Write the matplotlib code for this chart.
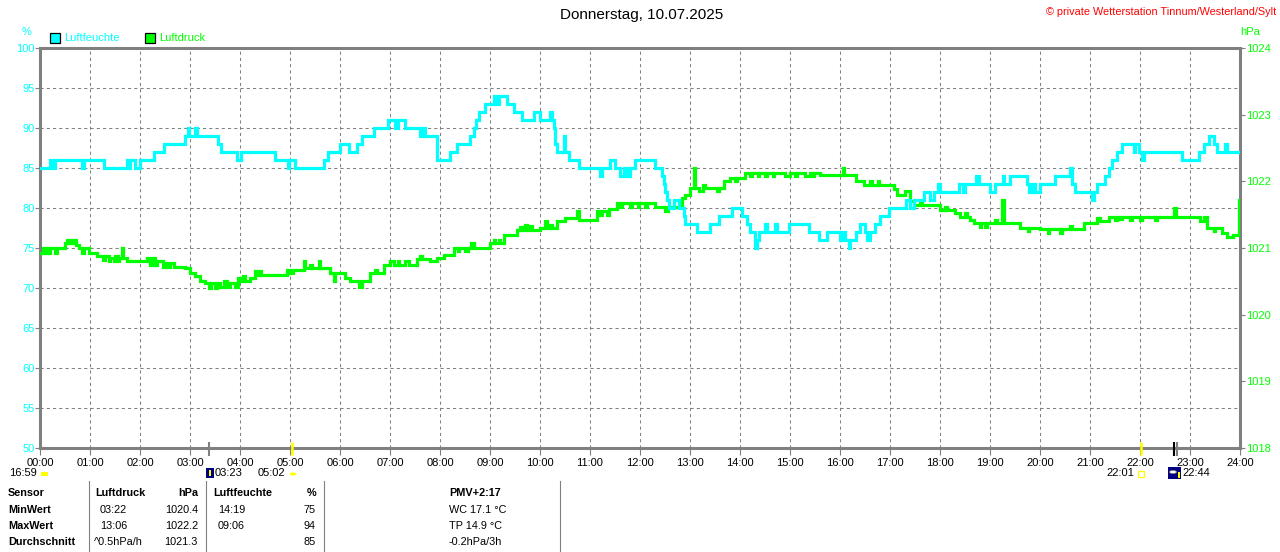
import matplotlib
matplotlib.use('Agg')
import matplotlib.pyplot as plt
from matplotlib.patches import Rectangle, Circle
import matplotlib.transforms as mtrans

plt.rcParams['font.family'] = ['Liberation Sans', 'DejaVu Sans']

# ---------------- data ----------------
hum_t = [0.0, 0.2, 0.25, 0.3, 0.83, 0.87, 1.0, 1.27, 1.73, 1.77, 1.8, 1.9, 2.0,
         2.28, 2.47, 2.9, 2.95, 2.98, 3.1, 3.13, 3.55, 3.62, 3.93, 4.02, 4.7,
         4.95, 4.98, 5.1, 5.67, 5.75, 6.0, 6.17, 6.33, 6.43, 6.67, 6.95, 7.1,
         7.15, 7.3, 7.6, 7.65, 7.7, 7.93, 8.2, 8.33, 8.6, 8.67, 8.72, 8.77, 8.9,
         9.07, 9.13, 9.17, 9.33, 9.47, 9.63, 9.87, 10.0, 10.2, 10.23, 10.27,
         10.3, 10.33, 10.47, 10.5, 10.57, 10.77, 11.2, 11.23, 11.4, 11.5, 11.6,
         11.67, 11.73, 11.8, 11.9, 12.3, 12.43, 12.47, 12.5, 12.53, 12.57,
         12.67, 12.77, 12.87, 12.9, 13.13, 13.4, 13.57, 13.83, 14.03, 14.13,
         14.2, 14.3, 14.33, 14.37, 14.5, 14.53, 14.7, 14.73, 14.97, 15.37,
         15.57, 15.73, 16.0, 16.05, 16.1, 16.17, 16.2, 16.33, 16.4, 16.5,
         16.53, 16.6, 16.7, 16.8, 16.97, 17.33, 17.4, 17.47, 17.67, 17.8,
         17.87, 17.95, 18.0, 18.37, 18.45, 18.5, 18.72, 18.77, 19.0, 19.1,
         19.25, 19.28, 19.4, 19.73, 19.77, 19.83, 19.9, 20.0, 20.13, 20.3,
         20.6, 20.63, 20.7, 21.03, 21.07, 21.13, 21.3, 21.37, 21.43, 21.53,
         21.63, 21.87, 21.9, 21.97, 22.03, 22.07, 22.83, 23.17, 23.27, 23.37,
         23.47, 23.53, 23.7, 23.73, 24.0]
hum_v = [85, 86, 85, 86, 85, 86, 86, 85, 86, 85, 86, 85, 86,
         87, 88, 89, 90, 89, 90, 89, 88, 87, 86, 87, 86,
         85, 86, 85, 86, 87, 88, 87, 88, 89, 90, 91, 90,
         91, 90, 89, 90, 89, 86, 87, 88, 89, 90, 91, 92, 93,
         94, 93, 94, 93, 92, 91, 92, 91, 92, 91, 90,
         88, 87, 89, 87, 86, 85, 84, 85, 86, 85, 84,
         85, 84, 85, 86, 85, 84, 83, 82, 81, 80,
         81, 80, 79, 78, 77, 78, 79, 80, 79, 78,
         77, 75, 76, 77, 78, 77, 78, 77, 78, 77,
         76, 77, 76, 77, 76, 75, 76, 77, 78, 77,
         76, 77, 78, 79, 80, 81, 80, 81, 82, 81,
         82, 83, 82, 83, 82, 83, 84, 83, 82, 83,
         84, 83, 84, 83, 82, 83, 82, 83, 83, 84,
         85, 83, 82, 81, 82, 83, 84, 85, 86, 87,
         88, 87, 88, 87, 86, 87, 86, 87, 88, 89,
         88, 87, 88, 87, 87]

pres_t = [0.0, 0.05, 0.1, 0.13, 0.18, 0.2, 0.3, 0.33, 0.5, 0.53, 0.55, 0.6,
          0.63, 0.7, 0.72, 0.77, 0.83, 0.87, 0.97, 1.13, 1.25, 1.3, 1.37, 1.4,
          1.47, 1.5, 1.55, 1.58, 1.63, 1.66, 1.73, 2.13, 2.2, 2.25, 2.3, 2.33,
          2.45, 2.5, 2.53, 2.6, 2.67, 2.9, 3.0, 3.1, 3.2, 3.3, 3.37, 3.42, 3.5,
          3.53, 3.6, 3.67, 3.73, 3.8, 3.9, 3.95, 4.02, 4.05, 4.1, 4.2, 4.3,
          4.35, 4.4, 4.42, 4.93, 5.0, 5.05, 5.27, 5.3, 5.4, 5.43, 5.57, 5.6,
          5.8, 5.87, 5.9, 6.1, 6.2, 6.37, 6.43, 6.6, 6.7, 6.73, 6.87, 7.0,
          7.07, 7.15, 7.18, 7.3, 7.37, 7.53, 7.6, 7.63, 7.8, 7.93, 8.07, 8.27,
          8.35, 8.38, 8.5, 8.55, 8.62, 8.67, 9.0, 9.07, 9.1, 9.17, 9.2, 9.27,
          9.53, 9.6, 9.63, 9.7, 9.73, 9.8, 9.83, 10.0, 10.1, 10.13, 10.2,
          10.23, 10.33, 10.5, 10.73, 10.77, 11.13, 11.2, 11.23, 11.33, 11.37,
          11.53, 11.6, 11.63, 11.8, 11.83, 11.95, 11.98, 12.1, 12.13, 12.3,
          12.5, 12.55, 12.83, 12.9, 13.0, 13.07, 13.1, 13.17, 13.25, 13.3,
          13.53, 13.57, 13.67, 13.8, 13.9, 13.93, 14.1, 14.2, 14.23, 14.35,
          14.38, 14.5, 14.53, 14.65, 14.68, 14.9, 15.0, 15.1, 15.13, 15.3,
          15.4, 15.45, 15.48, 15.6, 16.05, 16.08, 16.33, 16.47, 16.6, 16.63,
          16.75, 16.78, 17.07, 17.15, 17.3, 17.4, 17.47, 17.6, 17.63, 18.0,
          18.1, 18.13, 18.3, 18.4, 18.5, 18.53, 18.6, 18.67, 18.8, 18.83,
          18.9, 18.93, 19.1, 19.13, 19.23, 19.27, 19.6, 19.75, 19.78, 20.0,
          20.15, 20.18, 20.4, 20.43, 20.6, 20.63, 20.87, 21.13, 21.2, 21.37,
          21.5, 21.53, 21.6, 21.63, 21.8, 21.83, 22.0, 22.03, 22.3, 22.33,
          22.67, 22.72, 23.2, 23.27, 23.33, 23.47, 23.5, 23.63, 23.73, 23.85,
          23.97, 24.0]
pres_v = [1020.92, 1021.0, 1020.92, 1021.0, 1020.92, 1021.0, 1020.92, 1021.0,
          1021.07, 1021.12, 1021.07, 1021.12, 1021.07, 1021.12, 1021.05,
          1021.0, 1020.92, 1021.0, 1020.92, 1020.88, 1020.82, 1020.88,
          1020.8, 1020.85, 1020.8, 1020.88, 1020.8, 1020.85, 1021.0, 1020.85,
          1020.8, 1020.85, 1020.75, 1020.85, 1020.75, 1020.8, 1020.72,
          1020.78, 1020.72, 1020.78, 1020.72, 1020.7, 1020.62, 1020.58,
          1020.5, 1020.47, 1020.4, 1020.47, 1020.4, 1020.47, 1020.42, 1020.5,
          1020.42, 1020.47, 1020.42, 1020.55, 1020.5, 1020.58, 1020.5,
          1020.55, 1020.65, 1020.6, 1020.65, 1020.6, 1020.67, 1020.62,
          1020.67, 1020.8, 1020.7, 1020.75, 1020.7, 1020.8, 1020.7, 1020.62,
          1020.5, 1020.62, 1020.55, 1020.5, 1020.42, 1020.5, 1020.62,
          1020.67, 1020.62, 1020.75, 1020.8, 1020.75, 1020.8, 1020.75,
          1020.8, 1020.75, 1020.83, 1020.88, 1020.83, 1020.8, 1020.85,
          1020.9, 1021.0, 1020.95, 1021.0, 1020.95, 1021.0, 1021.08, 1021.0,
          1021.07, 1021.12, 1021.07, 1021.12, 1021.07, 1021.2, 1021.27,
          1021.32, 1021.27, 1021.35, 1021.27, 1021.33, 1021.27, 1021.3,
          1021.4, 1021.3, 1021.35, 1021.3, 1021.4, 1021.45, 1021.55, 1021.42,
          1021.55, 1021.5, 1021.55, 1021.5, 1021.58, 1021.67, 1021.62,
          1021.67, 1021.62, 1021.67, 1021.62, 1021.67, 1021.62, 1021.67,
          1021.62, 1021.55, 1021.62, 1021.75, 1021.8, 1021.9, 1022.2, 1021.9,
          1021.85, 1021.95, 1021.9, 1021.85, 1021.9, 1022.0, 1022.05, 1022.0,
          1022.05, 1022.13, 1022.08, 1022.13, 1022.08, 1022.13, 1022.08,
          1022.13, 1022.08, 1022.13, 1022.08, 1022.13, 1022.08, 1022.13,
          1022.08, 1022.13, 1022.08, 1022.13, 1022.1, 1022.2, 1022.1, 1022.0,
          1021.95, 1022.0, 1021.95, 1022.0, 1021.95, 1021.88, 1021.8,
          1021.85, 1021.7, 1021.65, 1021.7, 1021.65, 1021.57, 1021.62,
          1021.57, 1021.52, 1021.47, 1021.52, 1021.47, 1021.42, 1021.37,
          1021.32, 1021.37, 1021.32, 1021.37, 1021.42, 1021.37, 1021.72,
          1021.37, 1021.3, 1021.25, 1021.3, 1021.28, 1021.23, 1021.28,
          1021.23, 1021.28, 1021.33, 1021.28, 1021.37, 1021.45, 1021.4,
          1021.47, 1021.42, 1021.47, 1021.43, 1021.47, 1021.42, 1021.47,
          1021.42, 1021.47, 1021.42, 1021.47, 1021.6, 1021.47, 1021.4,
          1021.47, 1021.3, 1021.25, 1021.3, 1021.22, 1021.17, 1021.2,
          1021.72, 1021.72]

hours = list(range(25))
hour_labels = [f"{h:02d}:00" for h in hours]
hum_ticks = list(range(50, 101, 5))
pres_ticks = list(range(1018, 1025))

title = "Donnerstag, 10.07.2025"
copyright_txt = "\u00a9 private Wetterstation Tinnum/Westerland/Sylt"

# astronomical events (hours)
sunset_prev = "16:59"
moonset_t, moonset_lbl = 3 + 23/60, "03:23"
sunrise_t, sunrise_lbl = 5 + 2/60, "05:02"
sunset_t, sunset_lbl = 22 + 1/60, "22:01"
moonrise_t, moonrise_lbl = 22 + 44/60, "22:44"

table_header = ["Sensor", "Luftdruck", "hPa", "Luftfeuchte", "%", "PMV+2:17"]
row_names = ["MinWert", "MaxWert", "Durchschnitt"]
pres_time = ["03:22", "13:06", "^0.5hPa/h"]
pres_val = ["1020.4", "1022.2", "1021.3"]
hum_time = ["14:19", "09:06", ""]
hum_val = ["75", "94", "85"]
pmv_lines = ["WC 17.1 \u00b0C", "TP 14.9 \u00b0C", "-0.2hPa/3h"]

CYAN = "#00FFFF"
GREEN = "#00FF00"
GRAY = "#808080"

# ---------------- figure ----------------
W, H = 1280, 552
fig = plt.figure(figsize=(W/100, H/100), dpi=100)
fig.patch.set_facecolor("white")

def fx(x):
    return x / W

def fy(y):
    return 1 - y / H

ax = fig.add_axes([fx(40), fy(448), 1200/W, 400/H])
ax2 = ax.twinx()
ax3 = ax.twinx()

ax.set_ylim(50, 100)
ax2.set_ylim(1018, 1024)
ax3.set_ylim(50, 100)

for a in (ax, ax2, ax3):
    a.set_xlim(0, 24)
for s in ax.spines.values():
    s.set_color(GRAY)
    s.set_linewidth(2.2)
for a in (ax2, ax3):
    for s in a.spines.values():
        s.set_visible(False)

ax.set_xticks(hours)
ax.set_xticklabels(hour_labels)
ax.set_yticks(hum_ticks)
ax.set_yticklabels([str(v) for v in hum_ticks])
ax.tick_params(axis='x', direction='out', length=5, width=0.8, color=GRAY,
               labelsize=8, pad=2.5, labelcolor='black')
ax.tick_params(axis='y', direction='out', length=3.5, width=0.8, color=GRAY,
               labelsize=8, pad=0.5, labelcolor=CYAN)
ax2.set_yticks(pres_ticks)
ax2.set_yticklabels([str(v) for v in pres_ticks])
ax2.tick_params(axis='y', direction='out', length=3.5, width=0.8, color=GRAY,
                labelsize=8, pad=1.0, labelcolor=GREEN)
ax3.set_yticks([])
ax3.tick_params(axis='both', length=0)

ax.grid(True, color=GRAY, linestyle=(0, (3, 3)), linewidth=0.75)
ax.set_axisbelow(True)

ax2.plot(pres_t, pres_v, drawstyle='steps-post', color=GREEN, linewidth=2.3,
         solid_joinstyle='miter')
ax3.plot(hum_t, hum_v, drawstyle='steps-post', color=CYAN, linewidth=2.3,
         solid_joinstyle='miter')

# event marks on bottom axis
trans = mtrans.blended_transform_factory(ax.transData, ax.transAxes)
ax.vlines([moonset_t], -0.02, 0.014, colors=GRAY, linewidth=1.5,
          transform=trans, clip_on=False, zorder=5)
ax.vlines([sunrise_t, sunset_t], -0.018, 0.015, colors="#FFFF00",
          linewidth=1.8, transform=trans, clip_on=False, zorder=5)
ax.vlines([moonrise_t - 0.055], -0.02, 0.014, colors='black', linewidth=1.5,
          transform=trans, clip_on=False, zorder=5)
ax.vlines([moonrise_t + 0.005], -0.02, 0.014, colors=GRAY, linewidth=1.5,
          transform=trans, clip_on=False, zorder=5)

# ---------------- texts ----------------
fig.text(0.5015, fy(15), title, ha='center', va='center', fontsize=11)
fig.text(fx(1276), fy(12), copyright_txt, ha='right', va='center',
         fontsize=7.8, color='red')
fig.text(fx(27), fy(32), "%", ha='center', va='center', fontsize=8, color=CYAN)
fig.text(fx(1250), fy(32), "hPa", ha='center', va='center', fontsize=8,
         color=GREEN)

# legend
fig.add_artist(Rectangle((fx(50), fy(43)), 10/W, 10/H, transform=fig.transFigure,
                         facecolor=CYAN, edgecolor='black', linewidth=0.9))
fig.text(fx(64), fy(38), "Luftfeuchte", ha='left', va='center', fontsize=8,
         color=CYAN)
fig.add_artist(Rectangle((fx(145), fy(43)), 10/W, 10/H, transform=fig.transFigure,
                         facecolor=GREEN, edgecolor='black', linewidth=0.9))
fig.text(fx(159), fy(38), "Luftdruck", ha='left', va='center', fontsize=8,
         color=GREEN)

# astronomical labels under the axis
fig.text(fx(37), fy(473), sunset_prev, ha='right', va='center', fontsize=8)
fig.add_artist(Rectangle((fx(41), fy(476)), 7/W, 4/H, transform=fig.transFigure,
                         facecolor='#FFFF00', edgecolor='none'))
fig.add_artist(Rectangle((fx(206), fy(478)), 8/W, 10/H, transform=fig.transFigure,
                         facecolor='#000080', edgecolor='none'))
fig.add_artist(Rectangle((fx(209), fy(476)), 2/W, 6/H, transform=fig.transFigure,
                         facecolor='#FFFF00', edgecolor='none'))
fig.text(fx(215), fy(473), moonset_lbl, ha='left', va='center', fontsize=8)
fig.text(fx(285), fy(473), sunrise_lbl, ha='right', va='center', fontsize=8)
fig.add_artist(Circle((fx(293), fy(474)), 3.5/W, transform=fig.transFigure,
                      facecolor='#FFFF00', edgecolor='none'))
fig.text(fx(1134), fy(473), sunset_lbl, ha='right', va='center', fontsize=8)
fig.add_artist(Rectangle((fx(1138), fy(477)), 6/W, 6/H, transform=fig.transFigure,
                         facecolor='none', edgecolor='#FFFF00', linewidth=0.9))
fig.add_artist(Rectangle((fx(1168), fy(479)), 13/W, 12/H, transform=fig.transFigure,
                         facecolor='#000080', edgecolor='none'))
fig.add_artist(Circle((fx(1173), fy(472)), 3.5/W, transform=fig.transFigure,
                      facecolor='white', edgecolor='#808080', linewidth=0.5))
fig.add_artist(Rectangle((fx(1178), fy(478)), 2/W, 6/H, transform=fig.transFigure,
                         facecolor='#FFFF00', edgecolor='none'))
fig.text(fx(1182), fy(473), moonrise_lbl, ha='left', va='center', fontsize=8)

# ---------------- table ----------------
for xs in (89, 206, 324, 560):
    fig.add_artist(plt.Line2D([fx(xs), fx(xs)], [fy(481), fy(552)],
                              transform=fig.transFigure, color=GRAY,
                              linewidth=0.8))

rows_y = [493, 510, 526, 542]
fs = 7.8
fig.text(fx(8), fy(rows_y[0]), table_header[0], ha='left', va='center',
         fontsize=fs, fontweight='bold')
fig.text(fx(95), fy(rows_y[0]), table_header[1], ha='left', va='center',
         fontsize=fs, fontweight='bold')
fig.text(fx(198), fy(rows_y[0]), table_header[2], ha='right', va='center',
         fontsize=fs, fontweight='bold')
fig.text(fx(213), fy(rows_y[0]), table_header[3], ha='left', va='center',
         fontsize=fs, fontweight='bold')
fig.text(fx(316), fy(rows_y[0]), table_header[4], ha='right', va='center',
         fontsize=fs, fontweight='bold')
fig.text(fx(449), fy(rows_y[0]), table_header[5], ha='left', va='center',
         fontsize=fs, fontweight='bold')

for i, name in enumerate(row_names):
    y = fy(rows_y[i + 1])
    fig.text(fx(8), y, name, ha='left', va='center', fontsize=fs,
             fontweight='bold')
    xt = 94 if pres_time[i].startswith('^') else 100
    fig.text(fx(xt), y, pres_time[i], ha='left', va='center', fontsize=fs)
    fig.text(fx(198), y, pres_val[i], ha='right', va='center', fontsize=fs)
    if hum_time[i]:
        fig.text(fx(218), y, hum_time[i], ha='left', va='center', fontsize=fs)
    fig.text(fx(316), y, hum_val[i], ha='right', va='center', fontsize=fs)
    fig.text(fx(449), y, pmv_lines[i], ha='left', va='center', fontsize=fs)

fig.savefig("out.png", dpi=100, facecolor='white')
